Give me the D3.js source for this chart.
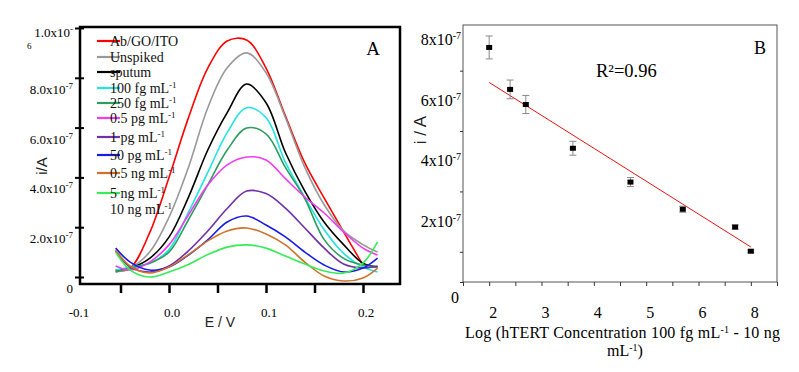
<!DOCTYPE html>
<html><head><meta charset="utf-8">
<script src="https://cdn.jsdelivr.net/npm/d3@7"></script>
<style>body{margin:0;background:#fff}svg{display:block}</style>
</head><body><svg id="c" width="799" height="372"></svg>
<script>
// ---------- Panel A data (current in units of 1e-7 A) ----------
const potentials = [-0.055,-0.04,-0.02,0,0.02,0.04,0.06,0.08,0.10,0.12,0.14,0.16,0.18,0.20,0.215];
const abGoIto   = [0.24,0.36,1.77,4.0,6.39,8.39,9.48,9.52,8.39,6.47,4.58,3.17,1.81,0.48];
const unspiked  = [0.20,0.36,1.0,2.4,4.4,6.8,8.4,9.0,8.2,6.4,4.4,2.9,1.85,1.3,1.0];
const sputum    = [0.28,0.36,0.75,1.6,3.2,5.1,6.6,7.75,7.0,5.0,3.45,2.2,1.3,0.55,0.40];
const fg100     = [0.28,0.40,0.55,1.1,2.6,4.2,5.8,6.8,6.4,4.6,3.2,1.9,0.95,0.40,0.20];
const fg250     = [0.20,0.36,0.55,1.0,2.3,3.7,5.1,5.98,5.75,4.4,3.15,1.5,0.75,0.48,0.40];
const pg05      = [0.44,0.28,0.60,1.29,2.49,3.69,4.50,4.82,4.70,3.95,3.21,2.57,1.81,1.16,0.88];
const pg1       = [1.05,0.40,0.20,0.44,1.05,1.85,2.75,3.45,3.35,2.77,1.97,1.16,0.52,0.36,0.44];
const pg50      = [1.16,0.60,0.28,0.40,0.88,1.49,2.21,2.45,2.09,1.61,1.00,0.48,0.20,0.36,0.76];
const ng05      = [1.08,0.44,0.16,0.40,0.90,1.45,1.85,1.97,1.73,1.29,0.60,0.04,-0.16,-0.04,0.36];
const ng5       = [1.00,0.28,0.0,0.20,0.50,0.90,1.20,1.29,1.16,0.84,0.52,0.24,0.16,0.56,1.41];
const seriesA   = [abGoIto,unspiked,sputum,fg100,fg250,pg05,pg1,pg50,ng05,ng5];
const colorsA   = ["#ff0000","#999999","#000000","#22e4e4","#2e9e5e","#f03cf0","#7030a8","#1a1ae6","#d2722a","#38ec58"];
const legendLabels = ["Ab/GO/ITO","Unspiked","sputum","100 fg mL^-1","250 fg mL^-1","0.5 pg mL^-1","1 pg mL^-1","50 pg mL^-1","0.5 ng mL^-1","5 ng mL^-1","10 ng mL^-1"];
const yTicksA = [0,2,4,6,8,10];
const yTickLabelsA = ["0","2.0x10^-7","4.0x10^-7","6.0x10^-7","8.0x10^-7","1.0x10^-"];
const xTicksA = [-0.05,0,0.05,0.1,0.15,0.2];
const xLabelValsA = [-0.1,0,0.1,0.2];
const xLabelsA = ["-0.1","0.0","0.1","0.2"];

// ---------- Panel B data ----------
const logConc  = [2.0,2.4,2.7,3.6,4.7,5.7,6.7,7.0];
const currentB = [7.77,6.38,5.88,4.43,3.31,2.41,1.82,1.02];
const errB     = [0.38,0.31,0.30,0.23,0.15,0.10,0.07,0.05];
const fitX     = [2.0,7.0];
const fitY     = [6.61,1.16];
const xTicksB  = [1.5,2,2.5,3,3.5,4,4.5,5,5.5,6,6.5,7,7.5];
const xLabelValsB = [2,3,4,5,6,7];
const xLabelsB = ["2","3","4","5","6","8"];
const yTickMarksB = [0,1,3,5,7];
const yLabelValsB = [2,4,6,8];
const yLabelsB = ["2x10^-7","4x10^-7","6x10^-7","8x10^-7"];

const svg = d3.select('#c');
const serif = "'Liberation Serif', 'Times New Roman', serif";
const sans = "'Liberation Sans', Arial, sans-serif";

function supText(sel, str, supSize, raise){
  const parts = str.split('^');
  sel.append('tspan').text(parts[0]);
  if(parts.length>1){
    sel.append('tspan').attr('font-size',supSize).attr('dy',-raise).text(parts[1]);
  }
}

// ================= Panel A =================
const xA = d3.scaleLinear().domain([-0.1,0.25]).range([72,411.5]);
const yA = d3.scaleLinear().domain([0,10]).range([277,28]);

const lineA = d3.line().x((d,i)=>xA(potentials[i])).y(d=>yA(d)).curve(d3.curveCatmullRom.alpha(0.5));
const gA = svg.append('g');
seriesA.forEach((s,i)=>{
  gA.append('path').attr('d',lineA(s)).attr('fill','none').attr('stroke',colorsA[i]).attr('stroke-width',1.6);
});

svg.append('rect').attr('x',80).attr('y',27).attr('width',320).attr('height',257)
  .attr('fill','none').attr('stroke','#000').attr('stroke-width',2.5);

const yAxA = svg.append('g').attr('transform','translate(84,0)')
  .call(d3.axisLeft(yA).tickValues(yTicksA).tickSize(9).tickFormat(''));
yAxA.select('.domain').remove();
yAxA.selectAll('line').attr('stroke-width',2);

const xAxA = svg.append('g').attr('transform','translate(0,284)')
  .call(d3.axisBottom(xA).tickValues(xTicksA).tickSize(9).tickFormat(''));
xAxA.select('.domain').remove();
xAxA.selectAll('line').attr('stroke-width',2.5);

yTicksA.forEach((v,i)=>{
  const t = svg.append('text').attr('x',73).attr('y',yA(v)+(v===10?9:16))
    .attr('text-anchor','end').style('font-family',serif).attr('font-size',13).attr('fill','#000');
  supText(t, yTickLabelsA[i], 9, 5);
});
svg.append('text').attr('x',27).attr('y',49).style('font-family',serif).attr('font-size',9).text('6');

xLabelValsA.forEach((v,i)=>{
  svg.append('text').attr('x',xA(v)+(v<0?7:3)).attr('y',317).attr('text-anchor','middle')
    .style('font-family',serif).attr('font-size',13).text(xLabelsA[i]);
});
svg.append('text').attr('x',220).attr('y',327).attr('text-anchor','middle')
  .style('font-family',sans).attr('font-size',14).attr('fill','#222').text('E / V');
svg.append('text').attr('transform','translate(47,166) rotate(-90)').attr('text-anchor','middle')
  .style('font-family',sans).attr('font-size',15).attr('fill','#222').text('i/A');
svg.append('text').attr('x',373).attr('y',55).attr('text-anchor','middle')
  .style('font-family',serif).attr('font-size',19).text('A');

const legRows = [41,57,72,88,103,118,137,155,173,193,209];
legendLabels.forEach((lab,i)=>{
  if(i<colorsA.length){
    svg.append('line').attr('x1',97).attr('x2',120).attr('y1',legRows[i]).attr('y2',legRows[i])
      .attr('stroke',colorsA[i]).attr('stroke-width',2.2);
  }
  const t = svg.append('text').attr('x',110).attr('y',legRows[i]+5)
    .style('font-family',serif).attr('font-size',14).attr('fill','#111');
  supText(t, lab, 9, 5);
});

// ================= Panel B =================
const xB = d3.scaleLinear().domain([1.5,7.5]).range([463,777]);
const yB = d3.scaleLinear().domain([0,8.5]).range([282,25.4]);

svg.append('rect').attr('x',463).attr('y',25).attr('width',314).attr('height',257)
  .attr('fill','none').attr('stroke','#555').attr('stroke-width',1);

const xAxB = svg.append('g').attr('transform','translate(0,282)')
  .call(d3.axisBottom(xB).tickValues(xTicksB).tickSize(4).tickFormat(''));
xAxB.select('.domain').remove();
xAxB.selectAll('line').attr('stroke','#333');

const yAxB = svg.append('g').attr('transform','translate(463,0)')
  .call(d3.axisLeft(yB).tickValues(yTickMarksB).tickSize(3).tickFormat(''));
yAxB.select('.domain').remove();
yAxB.selectAll('line').attr('stroke','#333');

svg.append('path').attr('d',d3.line().x(d=>xB(d[0])).y(d=>yB(d[1]))(fitX.map((x,i)=>[x,fitY[i]])))
  .attr('stroke','#ee1111').attr('stroke-width',1).attr('fill','none');

logConc.forEach((x,i)=>{
  const cx = xB(x), y1 = yB(currentB[i]+errB[i]), y2 = yB(currentB[i]-errB[i]);
  svg.append('line').attr('x1',cx).attr('x2',cx).attr('y1',y1).attr('y2',y2).attr('stroke','#888').attr('stroke-width',1);
  svg.append('line').attr('x1',cx-3.5).attr('x2',cx+3.5).attr('y1',y1).attr('y2',y1).attr('stroke','#888').attr('stroke-width',1);
  svg.append('line').attr('x1',cx-3.5).attr('x2',cx+3.5).attr('y1',y2).attr('y2',y2).attr('stroke','#888').attr('stroke-width',1);
});
svg.selectAll('rect.pt').data(logConc).enter().append('rect').attr('class','pt')
  .attr('x',d=>xB(d)-3).attr('y',(d,i)=>yB(currentB[i])-2.5).attr('width',6).attr('height',5).attr('fill','#000');

yLabelValsB.forEach((v,i)=>{
  const t = svg.append('text').attr('x',461).attr('y',yB(v)+5).attr('text-anchor','end')
    .style('font-family',serif).attr('font-size',16);
  supText(t, yLabelsB[i], 10, 6);
});
svg.append('text').attr('x',455).attr('y',303).attr('text-anchor','middle').style('font-family',serif).attr('font-size',16).text('0');
xLabelValsB.forEach((v,i)=>{
  svg.append('text').attr('x',xB(v)+4).attr('y',318).attr('text-anchor','middle')
    .style('font-family',serif).attr('font-size',16).text(xLabelsB[i]);
});
const xl1 = svg.append('text').attr('x',465).attr('y',338).style('font-family',serif).attr('font-size',16)
  .attr('textLength',315).attr('lengthAdjust','spacing');
xl1.append('tspan').text('Log (hTERT Concentration 100 fg mL');
xl1.append('tspan').attr('font-size',10).attr('dy',-5).text('-1');
xl1.append('tspan').attr('dy',5).text(' - 10 ng');
const xl2 = svg.append('text').attr('x',625).attr('y',356).attr('text-anchor','middle').style('font-family',serif).attr('font-size',16);
xl2.append('tspan').text('mL');
xl2.append('tspan').attr('font-size',10).attr('dy',-5).text('-1');
xl2.append('tspan').attr('dy',5).text(')');
svg.append('text').attr('transform','translate(426,130) rotate(-90)').attr('text-anchor','middle')
  .style('font-family',sans).attr('font-size',17).attr('fill','#222').text('i / A');
svg.append('text').attr('x',596).attr('y',77).style('font-family',serif).attr('font-size',18.5).text('R²=0.96');
svg.append('text').attr('x',760).attr('y',54).attr('text-anchor','middle').style('font-family',serif).attr('font-size',18).text('B');
</script></body></html>
